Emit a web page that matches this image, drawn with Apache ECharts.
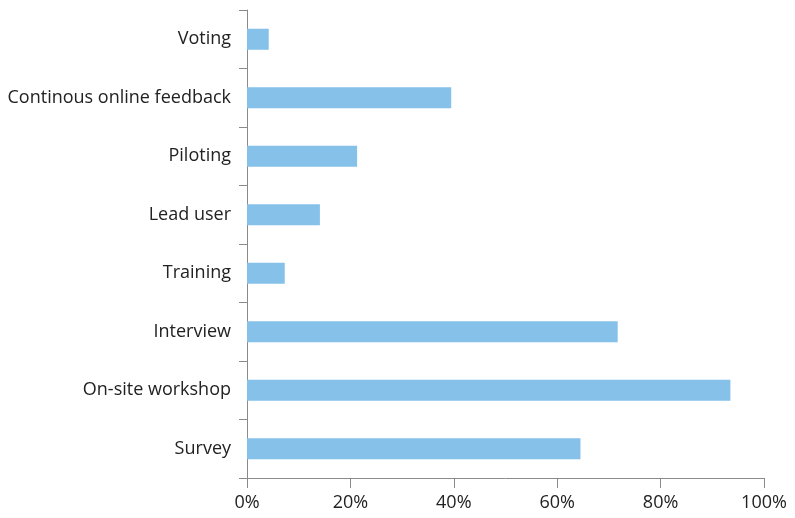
<!DOCTYPE html>
<html>
<head>
<meta charset="utf-8">
<script src="https://cdn.jsdelivr.net/npm/echarts@6/dist/echarts.min.js"></script>
<style>
  html, body { margin: 0; padding: 0; background: #fff; }
  #chart { width: 795px; height: 518px; }
</style>
</head>
<body>
<div id="chart"></div>
<script>
  // categories listed bottom to top
  var categories = ['Survey', 'On-site workshop', 'Interview', 'Training', 'Lead user', 'Piloting', 'Continous online feedback', 'Voting']
  var shares = [64.5, 93.5, 71.7, 7.3, 14.1, 21.3, 39.5, 4.2]
  var xTicks = [0, 20, 40, 60, 80, 100]

  var chart = echarts.init(document.getElementById('chart'))
  chart.setOption({
    animation: false,
    textStyle: { fontFamily: 'Open Sans' },
    grid: { left: 247, right: 31, top: 10, bottom: 40 },
    xAxis: {
      type: 'value',
      min: xTicks[0],
      max: xTicks[xTicks.length - 1],
      interval: 20,
      splitLine: { show: false },
      axisLine: { show: true, lineStyle: { color: '#8a8a8a', width: 1 } },
      axisTick: { show: true, length: 10, lineStyle: { color: '#8a8a8a' } },
      axisLabel: { color: '#222', fontSize: 18, margin: 16, formatter: '{value}%' }
    },
    yAxis: {
      type: 'category',
      data: categories,
      axisLine: { lineStyle: { color: '#8a8a8a', width: 1 } },
      axisTick: { show: true, length: 8, lineStyle: { color: '#8a8a8a' } },
      axisLabel: { color: '#222', fontSize: 18, margin: 16 }
    },
    series: [{
      type: 'bar',
      data: shares,
      barWidth: '36%',
      itemStyle: { color: '#85c1e9' }
    }]
  })
</script>
</body>
</html>
